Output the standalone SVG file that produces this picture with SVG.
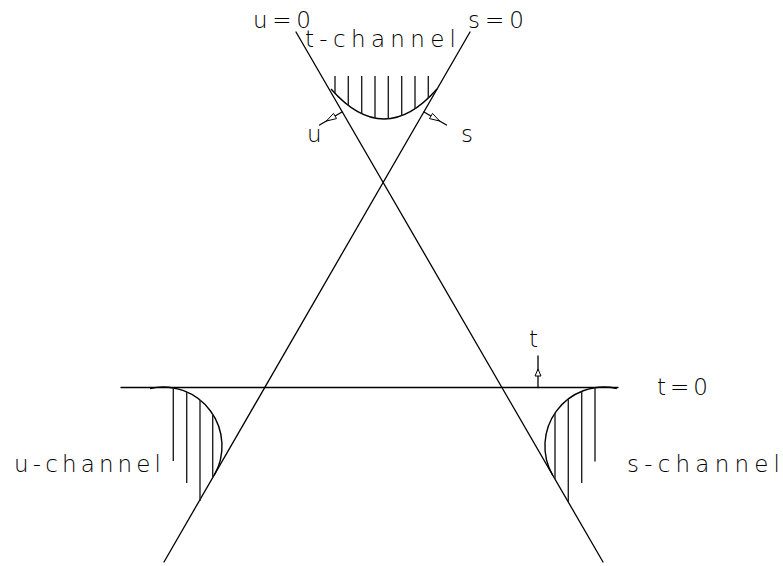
<svg xmlns="http://www.w3.org/2000/svg" width="783" height="566" viewBox="0 0 783 566">
<style>
.ln{stroke:#000;stroke-width:1.3;fill:none;stroke-linecap:round}
.ht{stroke:#222;stroke-width:1.4;fill:none}
.cv{stroke:#000;stroke-width:1.4;fill:none}
.lb{font-family:"DejaVu Sans","Liberation Sans",sans-serif;font-weight:200;font-size:23px;fill:#000}
.ah{fill:#fff;stroke:#000;stroke-width:1}
</style>
<rect width="783" height="566" fill="#fff"/>
<g id="connectors">
<line id="u0-line" class="ln" x1="296" y1="32" x2="603" y2="562"/>
<line id="s0-line" class="ln" x1="470" y1="32" x2="164" y2="562"/>
<line id="t0-line" class="ln" x1="121" y1="387.5" x2="618" y2="387.5"/>
<g id="u-arrow">
<line class="ln" x1="342" y1="112" x2="319.5" y2="125"/>
<polygon class="ah" points="326.4,121 333.5,113.4 336.5,118.6"/>
</g>
<g id="s-arrow">
<line class="ln" x1="424" y1="112" x2="446.5" y2="125"/>
<polygon class="ah" points="439.6,121 432.5,113.4 429.5,118.6"/>
</g>
<g id="t-arrow">
<line class="ln" x1="538" y1="387.5" x2="538" y2="356"/>
<polygon class="ah" points="538,369 535,376 541,376"/>
</g>
</g>
<g id="t-channel">
<path class="cv" d="M331,89 Q384,149 437,89"/>
<g class="ht">
<line x1="335" y1="76" x2="335" y2="93.4"/>
<line x1="348.3" y1="76" x2="348.3" y2="105.4"/>
<line x1="361.7" y1="76" x2="361.7" y2="113.7"/>
<line x1="375" y1="76" x2="375" y2="118.1"/>
<line x1="388.3" y1="76" x2="388.3" y2="118.8"/>
<line x1="401.7" y1="76" x2="401.7" y2="115.7"/>
<line x1="415" y1="76" x2="415" y2="108.7"/>
<line x1="428.3" y1="76" x2="428.3" y2="98"/>
</g>
<text class="lb" x="305" y="47" textLength="151" lengthAdjust="spacing">t-channel</text>
</g>
<g id="u-channel">
<path class="cv" d="M150,388.45 A59,59 0 0 1 214.1,475.5"/>
<g class="ht">
<line x1="173.3" y1="387.9" x2="173.3" y2="461"/>
<line x1="186.7" y1="392" x2="186.7" y2="483"/>
<line x1="200" y1="400" x2="200" y2="501"/>
<line x1="212.7" y1="414.2" x2="212.7" y2="477.7"/>
</g>
<text class="lb" x="14" y="472" textLength="147" lengthAdjust="spacing">u-channel</text>
</g>
<g id="s-channel">
<path class="cv" d="M552.8,475.5 A59,59 0 0 1 616.8,388.45"/>
<g class="ht">
<line x1="595" y1="387.7" x2="595" y2="461.5"/>
<line x1="581.7" y1="391.3" x2="581.7" y2="483"/>
<line x1="568.3" y1="398.9" x2="568.3" y2="502"/>
<line x1="555" y1="412.8" x2="555" y2="479"/>
</g>
<text class="lb" x="627" y="472" textLength="153" lengthAdjust="spacing">s-channel</text>
</g>
<g id="labels">
<text id="u0" class="lb" x="253" y="27.5" textLength="58" lengthAdjust="spacing">u=0</text>
<text id="s0" class="lb" x="468" y="27.5" textLength="56" lengthAdjust="spacing">s=0</text>
<text id="t0" class="lb" x="657" y="395" textLength="51" lengthAdjust="spacing">t=0</text>
<text id="u-lbl" class="lb" x="307" y="142">u</text>
<text id="s-lbl" class="lb" x="461" y="142">s</text>
<text id="t-lbl" class="lb" x="529" y="347">t</text>
</g>
</svg>
